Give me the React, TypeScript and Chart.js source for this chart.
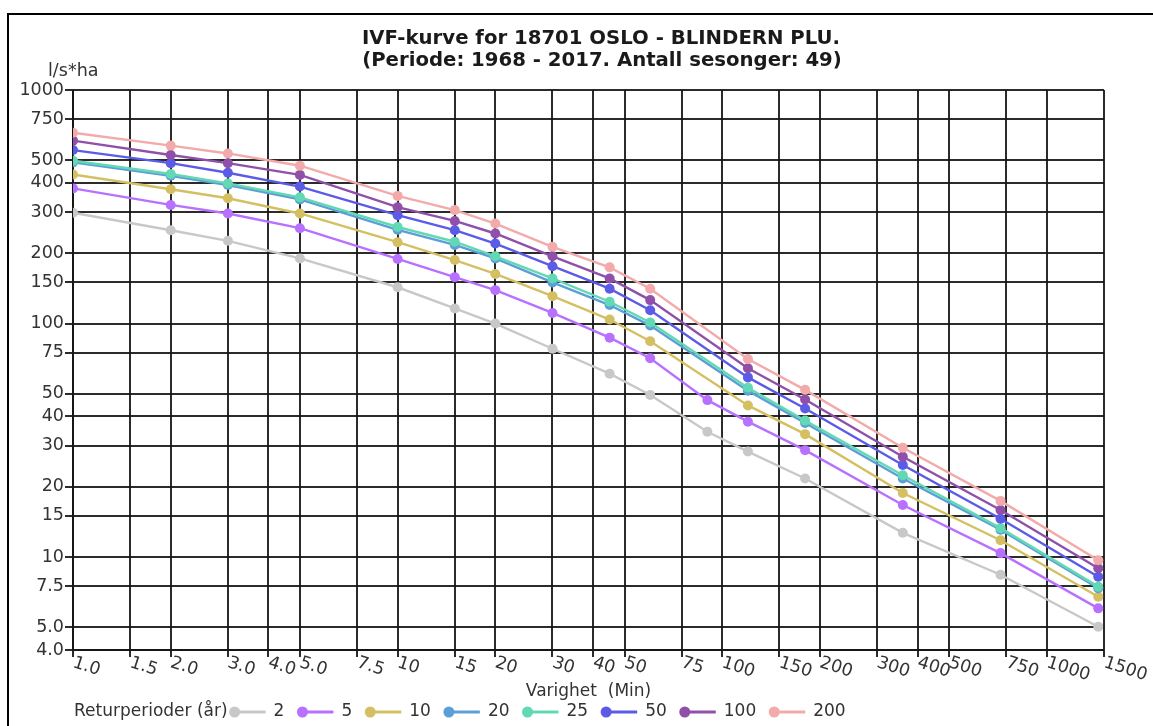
import React, { useEffect, useRef } from "react";
import { Chart, registerables } from "chart.js";

Chart.register(...registerables);

// ---- Data ----
const DURATIONS = [1, 2, 3, 5, 10, 15, 20, 30, 45, 60, 90, 120, 180, 360, 720, 1440];

const RP_2 = [298, 251, 226, 190, 143, 116, 100, 78, 61, 49.4, 34.4, 28.3, 21.7, 12.7, 8.4, 5.03];
const RP_5 = [379, 322, 296, 256, 189, 158, 139, 111, 87, 71, 47, 38, 28.7, 16.7, 10.4, 6.03];
const RP_10 = [435, 376, 344, 296, 223, 187, 163, 131, 104, 84, null, 44.6, 33.6, 18.8, 11.8, 6.76];
const RP_20 = [490, 429, 392, 340, 252, 217, 190, 150, 120, 98, null, 51.6, 37.5, 21.7, 13.1, 7.36];
const RP_25 = [498, 437, 398, 347, 259, 224, 194, 156, 124, 101, null, 53.1, 38.4, 22.4, 13.3, 7.47];
const RP_50 = [553, 486, 442, 386, 291, 251, 220, 176, 141, 114, null, 58.8, 43.3, 24.8, 14.6, 8.24];
const RP_100 = [607, 527, 486, 433, 315, 275, 243, 194, 156, 126, null, 64.3, 47.3, 26.9, 15.9, 8.95];
const RP_200 = [656, 578, 535, 474, 352, 306, 268, 213, 174, 141, null, 70.5, 52, 29.4, 17.4, 9.7];

const SERIES_VALUES = [RP_2, RP_5, RP_10, RP_20, RP_25, RP_50, RP_100, RP_200];
const SERIES_LABELS = ["2", "5", "10", "20", "25", "50", "100", "200"];
const SERIES_COLORS = ["#c8c8c8", "#b870ff", "#d4c062", "#5b9fd6", "#62d8b4", "#5b5be8", "#9050aa", "#f2aaaa"];

const X_TICKS = [1, 1.5, 2, 3, 4, 5, 7.5, 10, 15, 20, 30, 40, 50, 75, 100, 150, 200, 300, 400, 500, 750, 1000, 1500];
const Y_TICKS = [4, 5, 7.5, 10, 15, 20, 30, 40, 50, 75, 100, 150, 200, 300, 400, 500, 750, 1000];

const TITLE_LINES = ["IVF-kurve for 18701 OSLO - BLINDERN PLU.", "(Periode: 1968 - 2017. Antall sesonger: 49)"];
const Y_TITLE = "l/s*ha";
const X_TITLE = "Varighet  (Min)";
const LEGEND_TITLE = "Returperioder (år)";

const FONT = "'DejaVu Sans', Verdana, sans-serif";

function fmt(v: number): string {
  return v < 10 ? v.toFixed(1) : String(v);
}

const overlayPlugin = {
  id: "overlay",
  beforeDraw(chart: any) {
    const ctx = chart.ctx;
    ctx.save();
    ctx.fillStyle = "#ffffff";
    ctx.fillRect(0, 0, chart.width, chart.height);
    ctx.strokeStyle = "#000";
    ctx.lineWidth = 2;
    ctx.beginPath();
    ctx.moveTo(8, chart.height + 5);
    ctx.lineTo(8, 14);
    ctx.lineTo(chart.width + 5, 14);
    ctx.stroke();
    ctx.restore();
  },
  afterDraw(chart: any) {
    const ctx = chart.ctx;
    const area = chart.chartArea;
    const xs = chart.scales.x;
    ctx.save();
    // title
    ctx.fillStyle = "#1a1a1a";
    ctx.textAlign = "center";
    ctx.textBaseline = "middle";
    ctx.font = `bold 19.7px ${FONT}`;
    ctx.fillText(TITLE_LINES[0], 601, 39);
    ctx.fillText(TITLE_LINES[1], 602, 61);
    // y title
    ctx.fillStyle = "#333";
    ctx.font = `17.5px ${FONT}`;
    ctx.textAlign = "left";
    ctx.fillText(Y_TITLE, 48, 71);
    // x tick labels (rotated)
    ctx.font = `17.5px ${FONT}`;
    ctx.textBaseline = "top";
    for (const v of X_TICKS) {
      const px = xs.getPixelForValue(v);
      ctx.save();
      ctx.translate(px + 3, 654);
      ctx.rotate((18 * Math.PI) / 180);
      ctx.fillText(fmt(v), 0, 0);
      ctx.restore();
    }
    // x title
    ctx.font = `17px ${FONT}`;
    ctx.textAlign = "center";
    ctx.textBaseline = "middle";
    ctx.fillText(X_TITLE, (area.left + area.right) / 2, 692);
    // legend
    const ly = 712;
    ctx.textAlign = "left";
    ctx.fillText(LEGEND_TITLE, 74, ly);
    let x = 74 + ctx.measureText(LEGEND_TITLE).width + 7;
    chart.data.datasets.forEach((ds: any) => {
      ctx.strokeStyle = ds.borderColor;
      ctx.lineWidth = 3;
      ctx.beginPath();
      ctx.moveTo(x, ly);
      ctx.lineTo(x + 31, ly);
      ctx.stroke();
      ctx.fillStyle = ds.borderColor;
      ctx.beginPath();
      ctx.arc(x, ly, 5.5, 0, Math.PI * 2);
      ctx.fill();
      ctx.fillStyle = "#333";
      const tx = x + 39;
      ctx.fillText(ds.label, tx, ly);
      x = tx + ctx.measureText(ds.label).width + 18;
    });
    ctx.restore();
  },
};

export default function App() {
  const ref = useRef<HTMLCanvasElement>(null);
  useEffect(() => {
    if (!ref.current) return;
    const datasets = SERIES_VALUES.map((vals, i) => ({
      label: SERIES_LABELS[i],
      data: DURATIONS.map((d, j) => ({ x: d, y: vals[j] })),
      borderColor: SERIES_COLORS[i],
      backgroundColor: SERIES_COLORS[i],
      pointBackgroundColor: SERIES_COLORS[i],
      pointBorderColor: SERIES_COLORS[i],
      borderWidth: 2.4,
      pointRadius: 5,
      pointBorderWidth: 0,
      spanGaps: true,
      tension: 0,
      clip: { left: 0, top: 10, right: 10, bottom: 10 },
      order: SERIES_VALUES.length - 1 - i,
    }));
    const gridColor = "rgba(20,20,20,0.9)";
    const chart = new Chart(ref.current, {
      type: "line",
      data: { datasets },
      options: {
        animation: false,
        responsive: false,
        devicePixelRatio: 1,
        layout: { padding: { left: 0, top: 90, right: 49, bottom: 0 } },
        plugins: { legend: { display: false }, title: { display: false }, tooltip: { enabled: false } },
        scales: {
          x: {
            type: "logarithmic",
            min: 1,
            max: 1500,
            afterBuildTicks: (scale: any) => {
              scale.ticks = X_TICKS.map((v) => ({ value: v }));
            },
            afterFit: (scale: any) => {
              scale.height = 76;
            },
            ticks: { display: false },
            grid: { color: gridColor, lineWidth: 2, tickLength: 7, drawTicks: true },
            border: { display: true, color: gridColor, width: 2 },
          },
          y: {
            type: "logarithmic",
            min: 4,
            max: 1000,
            afterBuildTicks: (scale: any) => {
              scale.ticks = Y_TICKS.map((v) => ({ value: v }));
            },
            afterFit: (scale: any) => {
              scale.width = 73;
            },
            ticks: {
              autoSkip: false,
              padding: 1,
              color: "#333",
              font: { family: FONT, size: 17.5 },
              callback: (v: any) => fmt(Number(v)),
            },
            grid: { color: gridColor, lineWidth: 2, tickLength: 8 },
            border: { display: true, color: gridColor, width: 2 },
          },
        },
      },
      plugins: [overlayPlugin],
    });
    return () => chart.destroy();
  }, []);
  return (
    <div style={{ position: "fixed", left: 0, top: 0, width: 1153, height: 726, background: "#fff" }}>
      <canvas ref={ref} width={1153} height={726} style={{ display: "block", width: 1153, height: 726 }} />
    </div>
  );
}
